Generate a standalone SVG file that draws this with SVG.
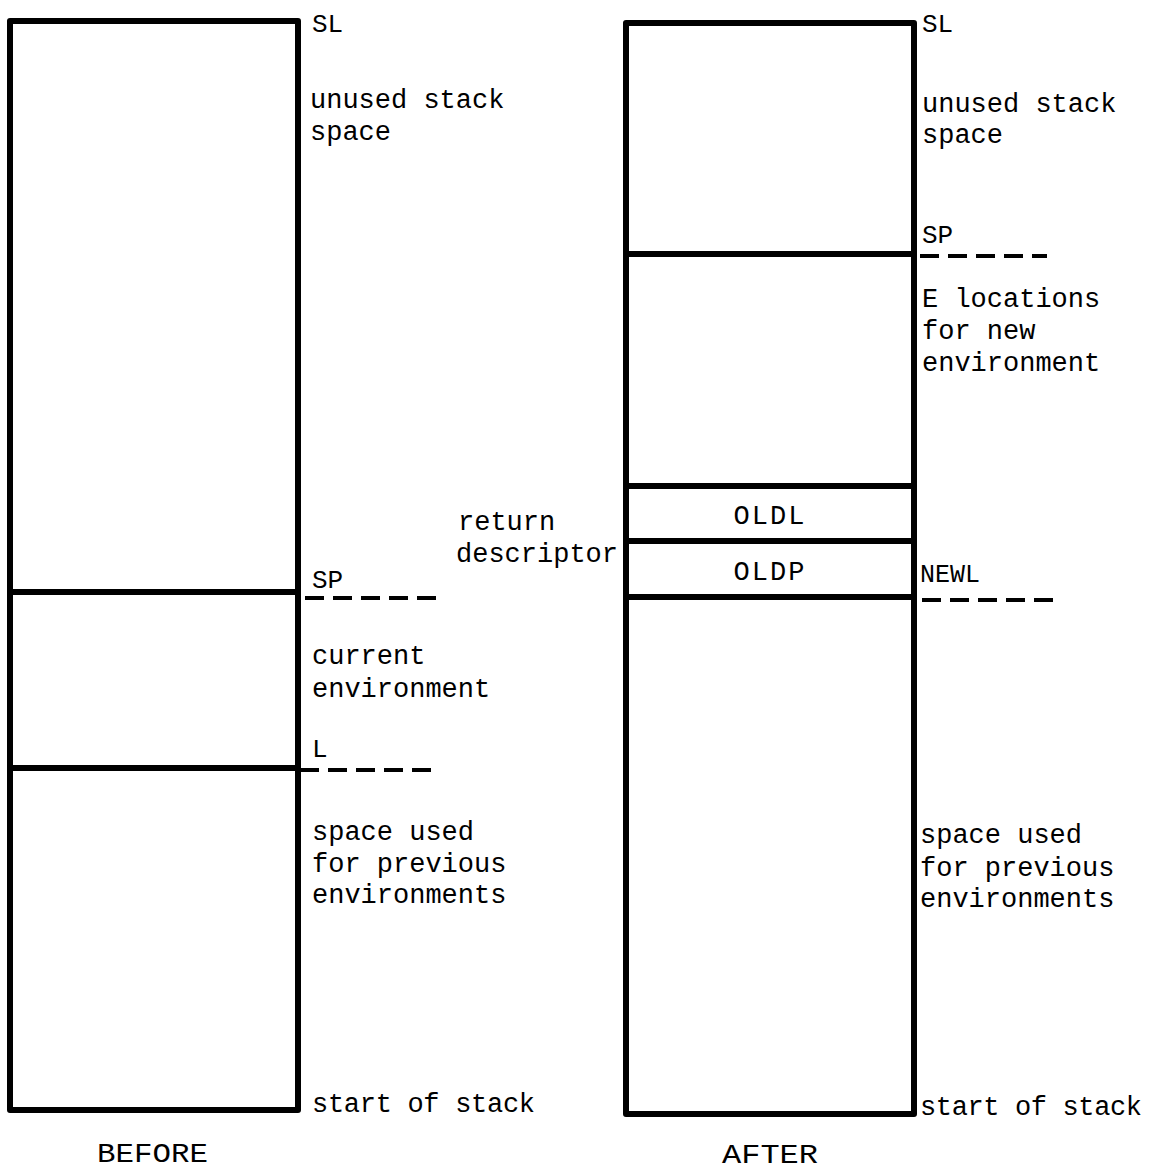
<svg xmlns="http://www.w3.org/2000/svg" width="1153" height="1172" viewBox="0 0 1153 1172">
<style>
.box{fill:none;stroke:#000;stroke-width:6;stroke-linejoin:round}
.div{stroke:#000;stroke-width:6}
.dash{stroke:#000;stroke-width:4;stroke-dasharray:19 9;fill:none}
text{font-family:"Liberation Mono","DejaVu Sans Mono",monospace;font-size:27px;fill:#000}
.sm{font-size:26px}
.cap{font-family:"Liberation Mono",monospace;font-size:28px}
</style>
<rect width="1153" height="1172" fill="#fff"/>
<g id="before">
<rect class="box" x="10" y="21" width="288" height="1089"/>
<line class="div" x1="10" y1="592" x2="298" y2="592"/>
<line class="div" x1="10" y1="768" x2="298" y2="768"/>
<text x="312" y="32" class="sm">SL</text>
<text x="310" y="108">unused stack</text>
<text x="310" y="140">space</text>
<text x="312" y="588" class="sm">SP</text>
<text x="312" y="664">current</text>
<text x="312" y="697">environment</text>
<text x="312" y="757" class="sm">L</text>
<text x="312" y="840">space used</text>
<text x="312" y="872">for previous</text>
<text x="312" y="903">environments</text>
<text x="312" y="1112" textLength="223" lengthAdjust="spacing">start of stack</text>
<text x="97" y="1162" class="cap" textLength="111" lengthAdjust="spacingAndGlyphs">BEFORE</text>
</g>
<g id="after">
<rect class="box" x="626" y="23" width="288" height="1091"/>
<line class="div" x1="626" y1="254" x2="914" y2="254"/>
<line class="div" x1="626" y1="486" x2="914" y2="486"/>
<line class="div" x1="626" y1="541" x2="914" y2="541"/>
<line class="div" x1="626" y1="597" x2="914" y2="597"/>
<text x="922" y="32" class="sm">SL</text>
<text x="922" y="112">unused stack</text>
<text x="922" y="143">space</text>
<text x="922" y="243" class="sm">SP</text>
<text x="922" y="307">E locations</text>
<text x="922" y="339">for new</text>
<text x="922" y="371">environment</text>
<text x="770" y="524" text-anchor="middle" letter-spacing="2">OLDL</text>
<text x="770" y="580" text-anchor="middle" letter-spacing="2">OLDP</text>
<text x="920" y="582" class="sm" textLength="60" lengthAdjust="spacingAndGlyphs">NEWL</text>
<text x="920" y="843">space used</text>
<text x="920" y="876">for previous</text>
<text x="920" y="907">environments</text>
<text x="920" y="1115" textLength="222" lengthAdjust="spacing">start of stack</text>
<text x="722" y="1163" class="cap" textLength="96" lengthAdjust="spacingAndGlyphs">AFTER</text>
</g>
<g id="labels">
<text x="458" y="530">return</text>
<text x="456" y="562">descriptor</text>
</g>
<g id="connectors">
<line class="dash" x1="305" y1="598" x2="436" y2="598"/>
<line class="dash" x1="300" y1="770" x2="433" y2="770" stroke-dasharray="22 7 17 10 17 10 17 10 21"/>
<line class="dash" x1="920" y1="256" x2="1047" y2="256"/>
<line class="dash" x1="922" y1="600" x2="1053" y2="600"/>
</g>
</svg>
